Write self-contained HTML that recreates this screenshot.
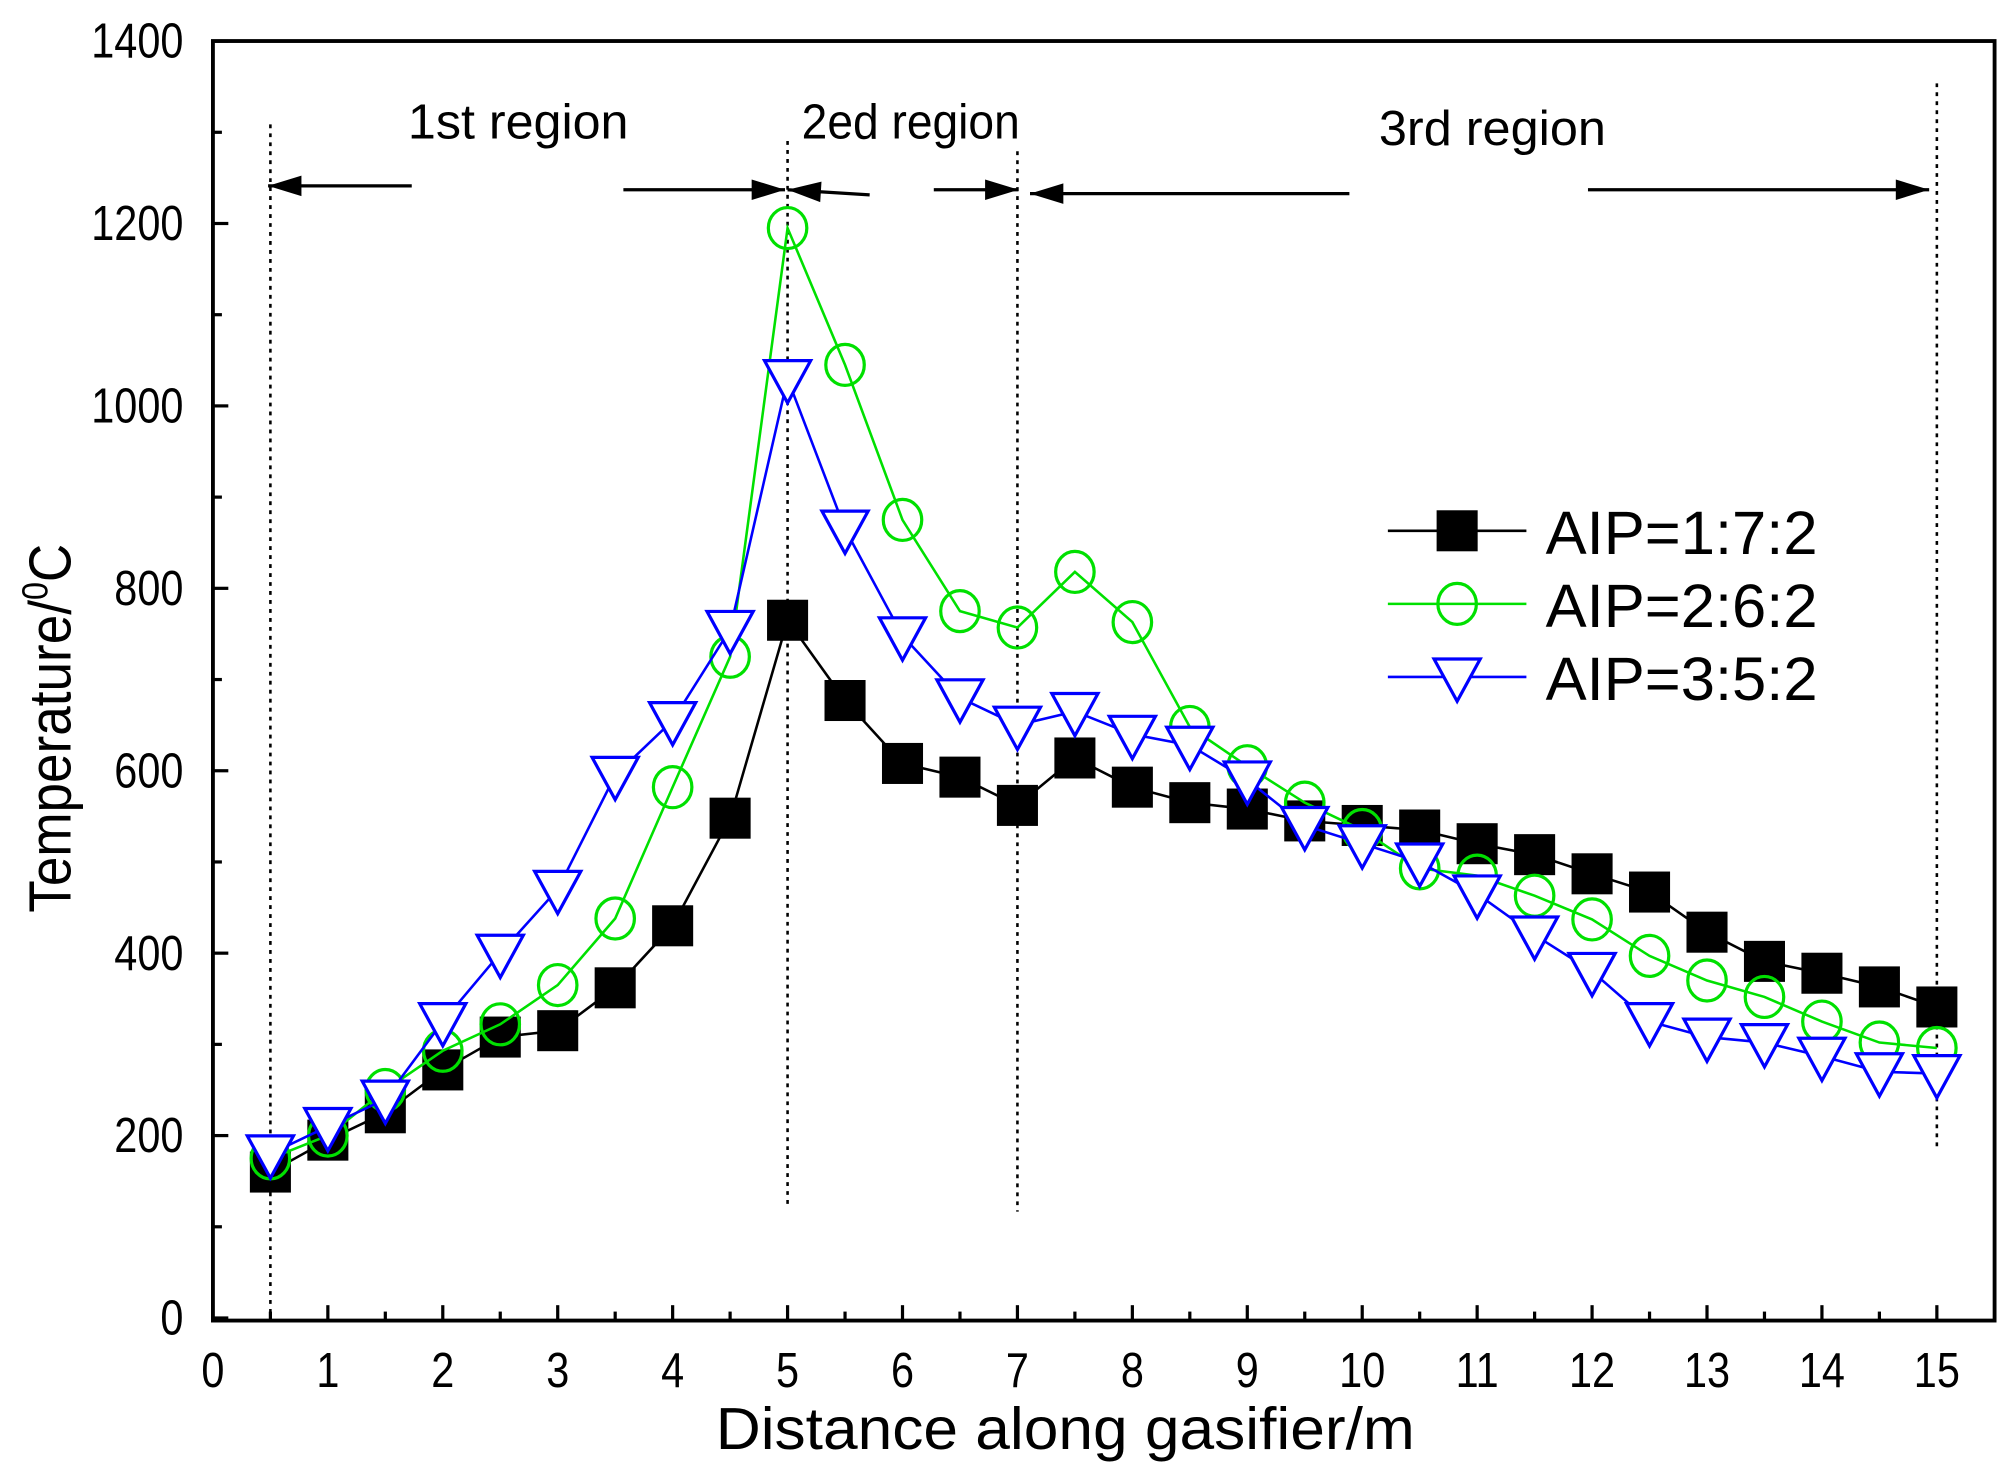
<!DOCTYPE html>
<html><head><meta charset="utf-8"><style>
html,body{margin:0;padding:0;background:#fff;}
svg{display:block;}
text{font-family:"Liberation Sans",Arial,sans-serif;fill:#000;}
</style></head><body>
<svg id="chart" width="2001" height="1468" viewBox="0 0 1560 1145" preserveAspectRatio="none" xmlns="http://www.w3.org/2000/svg">
<g id="plot"></g>
</svg>
<script>
const xs = [0.5,1,1.5,2,2.5,3,3.5,4,4.5,5,5.5,6,6.5,7,7.5,8,8.5,9,9.5,10,10.5,11,11.5,12,12.5,13,13.5,14,14.5,15];
const seriesA = [160,195,225,272,308,315,362,430,548,765,677,608,593,562,614,582,565,558,545,540,535,520,508,487,467,423,391,378,363,341];
const seriesB = [175,200,250,293,322,365,438,582,725,1195,1045,875,775,757,818,763,648,605,565,535,493,485,463,437,397,370,352,325,302,296];
const seriesC = [180,210,240,325,400,470,595,655,755,1030,865,748,680,650,665,640,628,590,540,520,500,465,420,380,325,308,302,287,270,268];
const xTicks = [0,1,2,3,4,5,6,7,8,9,10,11,12,13,14,15];
const yTicks = [0,200,400,600,800,1000,1200,1400];
const legendLabels = ["AIP=1:7:2","AIP=2:6:2","AIP=3:5:2"];
const regionLabels = ["1st region","2ed region","3rd region"];

const NS="http://www.w3.org/2000/svg";
const g=document.getElementById('plot');
const L=166,R=1555,T=32,B=1030;
const X=v=>166+v*89.6;
const Y=v=>1028-v*0.7114;
function mk(tag,attrs,parent){const e=document.createElementNS(NS,tag);for(const k in attrs)e.setAttribute(k,attrs[k]);(parent||g).appendChild(e);return e;}
function txt(s,x,y,size,anchor,parent,sx){const e=mk('text',{x:x,y:y,'font-size':size,'text-anchor':anchor||'middle'},parent);e.textContent=s;
 if(sx) e.setAttribute('transform',`translate(${x},0) scale(${sx},1) translate(${-x},0)`);return e;}
function fit(s,x,y,size,len,parent){const e=mk('text',{x:x,y:y,'font-size':size,textLength:len,lengthAdjust:'spacingAndGlyphs'},parent);e.textContent=s;return e;}

const frame=mk('rect',{x:L,y:T,width:R-L,height:B-T,fill:'none',stroke:'#000','stroke-width':3});



for(let i=0;i<=30;i++){const v=i*0.5;const major=i%2===0;
 mk('line',{x1:X(v),x2:X(v),y1:B,y2:B-(major?12:7),stroke:'#000','stroke-width':2.5});}
xTicks.forEach(v=>{const t=txt(String(v),X(v),1082,38,'middle',null,0.85);
 
 });
for(let v=0;v<=1400;v+=100){const major=v%200===0;
 mk('line',{x1:L,x2:L+(major?12:7),y1:Y(v),y2:Y(v),stroke:'#000','stroke-width':2.5});}
yTicks.forEach(v=>{const t=txt(String(v),143,Y(v)+13,38,'end',null,0.85);
 
 });

const xt=fit('Distance along gasifier/m',558,1130,46,545);


const yt=mk('text',{x:0,y:0,'font-size':46,'text-anchor':'middle',transform:'translate(55,568) rotate(-90) scale(0.9,1)'});
yt.innerHTML='Temperature/<tspan font-size="28" dy="-18">0</tspan><tspan dy="18">C</tspan>';



[[0.5,97,1028],[5,110,940],[7,118,945],[15,65,895]].forEach(d=>{
 const l=mk('line',{x1:X(d[0]),x2:X(d[0]),y1:d[1],y2:d[2],stroke:'#000','stroke-width':2,'stroke-dasharray':'3,4'});
 
 });

function arrow(x1,y1,x2,y2){const grp=mk('g',{});
 
 
 mk('line',{x1:x1,y1:y1,x2:x2,y2:y2,stroke:'#000','stroke-width':2.5},grp);
 const dx=x2-x1,dy=y2-y1,len=Math.hypot(dx,dy),ux=dx/len,uy=dy/len,hl=26,hw=8;
 const bx=x2-ux*hl,by=y2-uy*hl;
 mk('polygon',{points:`${x2},${y2} ${bx-uy*hw},${by+ux*hw} ${bx+uy*hw},${by-ux*hw}`,fill:'#000'},grp);}
arrow(321,145,209,145);
arrow(486,148,612,148);
arrow(678,152,614,148);
arrow(728,148,794,148);
arrow(1052,151,803,151);
arrow(1238,148,1504,148);
[[regionLabels[0],318,108,172],[regionLabels[1],625,108,170],[regionLabels[2],1075,113,177]].forEach(r=>{
 const t=fit(r[0],r[1],r[2],38,r[3]);
 
 });

function marker(type,cx,cy,color,parent){
 if(type==='sq') return mk('rect',{x:cx-16,y:cy-16,width:32,height:32,fill:'#000'},parent);
 if(type==='ci') return mk('ellipse',{cx:cx,cy:cy,rx:15,ry:16,fill:'none',stroke:color,'stroke-width':2.5},parent);
 return mk('polygon',{points:`${cx-18},${cy-14} ${cx+18},${cy-14} ${cx},${cy+19}`,fill:'#fff',stroke:color,'stroke-width':2.5},parent);}
function series(vals,color,type,name){
 const grp=mk('g',{});
 
 
 mk('polyline',{points:xs.map((x,i)=>X(x)+','+Y(vals[i])).join(' '),fill:'none',stroke:color,'stroke-width':2},grp);
 xs.forEach((x,i)=>{const m=marker(type,X(x),Y(vals[i]),color,grp);
  
  });}
series(seriesA,'#000','sq','series-aip-1-7-2');
series(seriesB,'#00e000','ci','series-aip-2-6-2');
series(seriesC,'#0000ff','tri','series-aip-3-5-2');

const leg=mk('g',{});


[['#000','sq',414],['#00e000','ci',471],['#0000ff','tri',528]].forEach((d,i)=>{
 const e=mk('g',{},leg);
 
 
 mk('line',{x1:1082,x2:1190,y1:d[2],y2:d[2],stroke:d[0],'stroke-width':2},e);
 marker(d[1],1136,d[2],d[0],e);
 fit(legendLabels[i],1205,d[2]+18,48,212,e);});
</script>
</body></html>
